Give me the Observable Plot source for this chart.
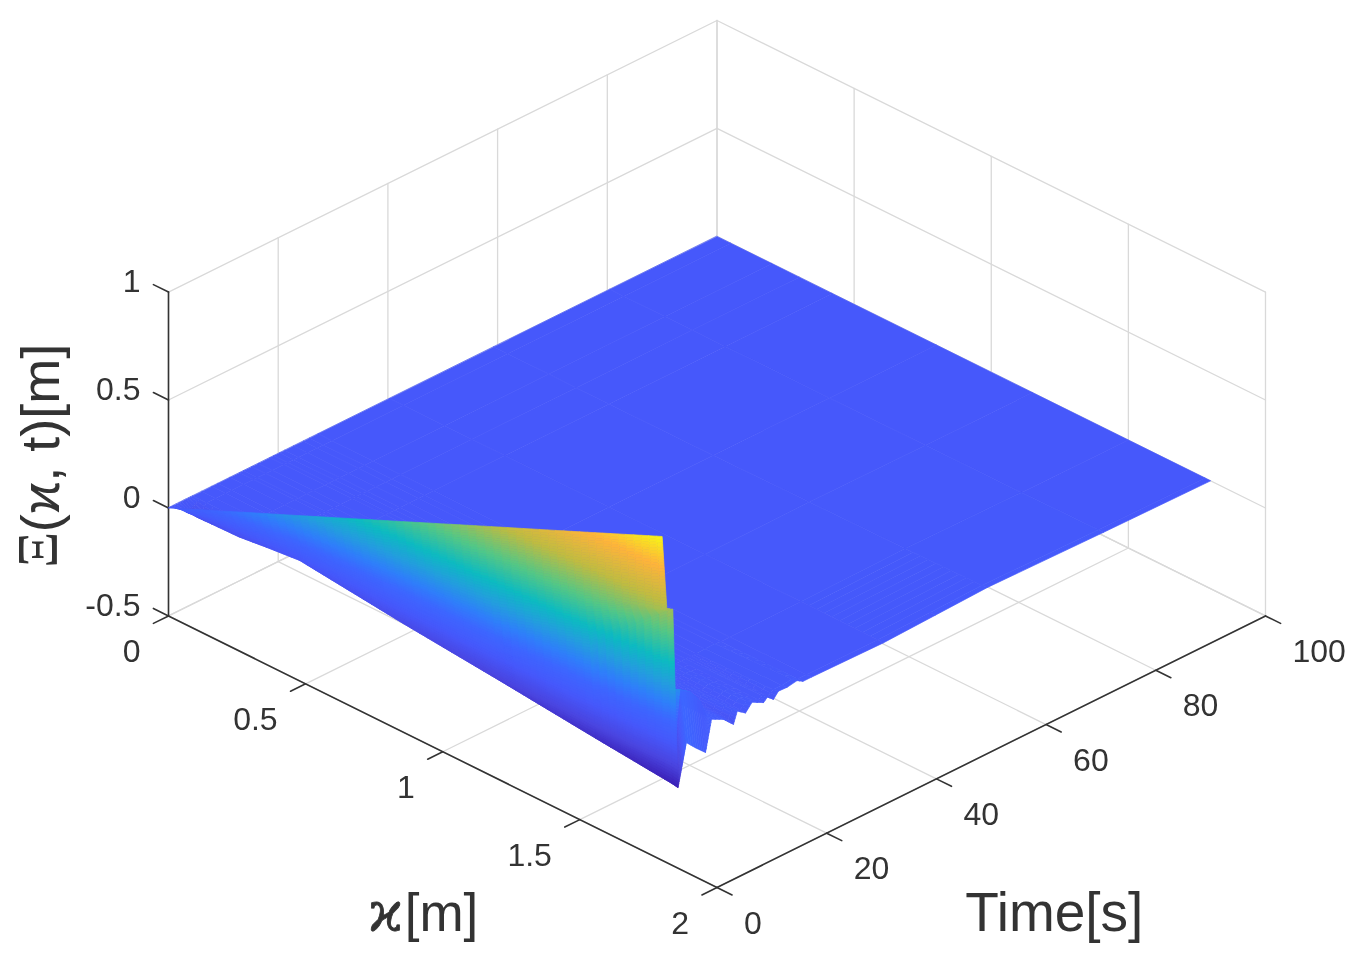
<!DOCTYPE html>
<html><head><meta charset="utf-8">
<script src="https://cdn.jsdelivr.net/npm/d3@7"></script>
<script src="https://cdn.jsdelivr.net/npm/@observablehq/plot@0.6"></script>
<style>html,body{margin:0;background:#fff}svg{display:block;filter:blur(0.5px)}</style>
</head><body><div id="chart"></div>
<script>
const xTicks=[0,0.5,1,1.5,2];
const tTicks=[0,20,40,60,80,100];
const zTicks=[-0.5,0,0.5,1];
const xGrid=[0,0.05,0.2,0.3,0.42,0.8,1.15,1.5,1.78,1.8];
const tGrid=[100,80.5,59.3,40.3,27.3,25.7,24.6,22.8,21.2,20.3,19.2,18.5,16.4,15.2,13.7,13,11.2,9,7.9,6.1,4.4,2.9,1.95,0.86,0];
const zRows=[
[0,0,0,0,0,0,0,0,0,0],
[0,0,0,0,0,0,0.001,0.003,0.006,0.007],
[0,0,0,0,0,0.002,0.005,0.01,0.016,0.018],
[0,0,0,0,0,0.001,0.002,0.003,0.002,0],
[0,0,0,0,0,0,0.001,0.002,0.005,0.006],
[0,0,0,0,0,0,0.001,0.002,0.005,0.006],
[0,0,0,0,0,0,0.002,0.005,0.018,0.023],
[0,0,0,0,0,0,0.002,0.005,0.012,0.015],
[0,0,0,0,0,0,0.001,0.003,0.012,0.017],
[0,0,0,0,0,0,0.001,0.001,-0.006,-0.01],
[0,0,0,0,0,0,0.001,0.003,0.01,0.015],
[0,0,0,0,0,0,0.001,0.002,0,-0.002],
[0,0,0,0,0,0,0.002,0.005,0.018,0.026],
[0,0,0,0,0,0,0.001,0.002,-0.005,-0.009],
[0,0,0,0,0,0.001,0.003,0.007,0.015,0.019],
[0,0,0,0,0,0.001,0.002,0.004,-0.02,-0.034],
[0,0,0,0,0,0.002,0.006,0.012,0.015,0.012],
[0,0,0,0,0,0.005,0.015,0.03,0.045,0.04],
[0,0,0,0,0.003,0.01,0.03,0.06,0.125,-0.1],
[0,0,0,0,0.004,0.015,0.04,0.08,0.19,-0.056],
[0,0,0,0,0.005,0.02,0.05,0.1,0.22,-0.01],
[0,-0.05,-0.045,-0.03,-0.015,-0.07,-0.113,-0.16,-0.195,-0.2],
[0,-0.025,0.01,0.035,0.065,0.1,0.14,0.3,0.62,0.638],
[0,0,0.06,0.1,0.155,0.29,0.41,0.53,0.64,0.656],
[0,0.028,0.111,0.167,0.233,0.444,0.639,0.833,0.989,1]
];
const colorStops=[-0.2,-0.1,0,0.1,0.18,0.28,0.38,0.52,0.68,0.85,1];
const colorRange=["#3a1fb5","#4a45e0","#4658fb","#3d66ff","#2f7ffa","#22a0dc","#0cbcc0","#55c884","#c0bc40","#ffb43a","#f7f716"];

const xMax=2,tMax=100,zMin=-0.5,zMax=1,zK=0.795;
const U=(x,t)=>x/xMax+t/tMax;
const V=(x,t,z)=>t/tMax-x/xMax+(z-zMin)*zK;
const P=(x,t,z)=>({u:U(x,t),v:V(x,t,z)});

// surface cells, far to near
const cells=[];let id=0;
for(let r=0;r<tGrid.length-1;r++){
  const t0=tGrid[r],t1=tGrid[r+1],a=zRows[r],b=zRows[r+1];
  for(let c=0;c<xGrid.length-1;c++){
    const x0=xGrid[c],x1=xGrid[c+1];
    const z00=a[c],z01=a[c+1],z10=b[c],z11=b[c+1];
    const dzT=Math.max(Math.abs(z10-z00),Math.abs(z11-z01));
    const dzX=Math.max(Math.abs(z01-z00),Math.abs(z11-z10));
    const nt=Math.max(1,Math.ceil(dzT*70));
    const nx=dzT+dzX<0.02?1:Math.max(1,Math.ceil((x1-x0)/0.03));
    const zAt=(i,j)=>{const p=i/nt,q=j/nx;return (1-p)*((1-q)*z00+q*z01)+p*((1-q)*z10+q*z11);};
    for(let i=0;i<nt;i++)for(let j=0;j<nx;j++){
      const tA=t0+(t1-t0)*i/nt,tB=t0+(t1-t0)*(i+1)/nt;
      const xA=x0+(x1-x0)*j/nx,xB=x0+(x1-x0)*(j+1)/nx;
      const zs=[zAt(i,j),zAt(i,j+1),zAt(i+1,j+1),zAt(i+1,j)];
      const val=d3.mean(zs);
      [[xA,tA,zs[0]],[xB,tA,zs[1]],[xB,tB,zs[2]],[xA,tB,zs[3]]].forEach(([x,t,z])=>cells.push({...P(x,t,z),id,val}));
      id++;
    }
  }
}

const seg=(a,b)=>[P(...a),P(...b)];
const grid=[
  ...xTicks.flatMap(x=>[seg([x,0,zMin],[x,tMax,zMin]),seg([x,tMax,zMin],[x,tMax,zMax])]),
  ...tTicks.flatMap(t=>[seg([0,t,zMin],[xMax,t,zMin]),seg([0,t,zMin],[0,t,zMax])]),
  ...zTicks.flatMap(z=>[seg([0,0,z],[0,tMax,z]),seg([0,tMax,z],[xMax,tMax,z])])
].flatMap((s,i)=>s.map(p=>({...p,i})));
const axes=[
  seg([0,0,zMin],[0,0,zMax]),seg([0,0,zMin],[xMax,0,zMin]),seg([xMax,0,zMin],[xMax,tMax,zMin]),
  ...zTicks.map(z=>seg([0,0,z],[-0.055,0,z])),
  ...xTicks.map(x=>seg([x,0,zMin],[x,-2.75,zMin])),
  ...tTicks.map(t=>seg([xMax,t,zMin],[xMax+0.055,t,zMin]))
].flatMap((s,i)=>s.map(p=>({...p,i})));

const ink="#333";
const font="Liberation Sans, Arial, sans-serif";
const tickText=(rows,opt)=>Plot.text(rows,{x:"u",y:"v",text:"s",fill:ink,fontSize:32,fontFamily:font,lineAnchor:"middle",...opt});
const chart=Plot.plot({
  width:1351,height:968,margin:0,
  x:{domain:[0,2],range:[168,1265],axis:null},
  y:{domain:[-1,2.1925],range:[887,20],axis:null},
  color:{type:"linear",domain:colorStops,range:colorRange,clamp:true},
  style:{background:"#fff"},
  marks:[
    Plot.line(grid,{x:"u",y:"v",z:"i",stroke:"#d9d9d9",strokeWidth:1.3}),
    Plot.line(axes,{x:"u",y:"v",z:"i",stroke:"#333",strokeWidth:1.6}),
    Plot.line(cells,{x:"u",y:"v",z:"id",fill:"val",stroke:"val",strokeWidth:0.7,curve:"linear-closed"}),
    tickText(zTicks.map(z=>({...P(0,0,z),s:String(z)})),{textAnchor:"end",dx:-28,dy:-10}),
    tickText(xTicks.map(x=>({...P(x,0,zMin),s:String(x)})),{textAnchor:"end",dx:-28,dy:36}),
    tickText(tTicks.map(t=>({...P(xMax,t,zMin),s:String(t)})),{textAnchor:"start",dx:27,dy:36}),
    Plot.text([{...P(1,0,zMin),s:"ϰ"}],{x:"u",y:"v",text:"s",fill:ink,stroke:ink,strokeWidth:0.8,fontSize:54,fontFamily:"DejaVu Serif",textAnchor:"start",lineAnchor:"middle",dx:-74,dy:162}),
    Plot.text([{...P(1,0,zMin),s:"[m]"}],{x:"u",y:"v",text:"s",fill:ink,fontSize:53,fontFamily:font,textAnchor:"start",lineAnchor:"middle",dx:-38,dy:162}),
    Plot.text([{...P(xMax,50,zMin),s:"Time[s]"}],{x:"u",y:"v",text:"s",fill:ink,fontSize:55,fontFamily:font,textAnchor:"middle",lineAnchor:"middle",dx:63,dy:162}),
    Plot.text([{...P(0,0,-0.194),s:"Ξ"}],{x:"u",y:"v",text:"s",fill:ink,fontSize:56,fontFamily:"Liberation Serif",rotate:-90,textAnchor:"middle",lineAnchor:"middle",dx:-129}),
    Plot.text([{...P(0,0,0.324),s:"(ϰ, t)[m]"}],{x:"u",y:"v",text:"s",fill:ink,fontSize:54,fontFamily:font+", DejaVu Serif",rotate:-90,textAnchor:"middle",lineAnchor:"middle",dx:-127})
  ]
});
document.getElementById("chart").appendChild(chart);
</script></body></html>
